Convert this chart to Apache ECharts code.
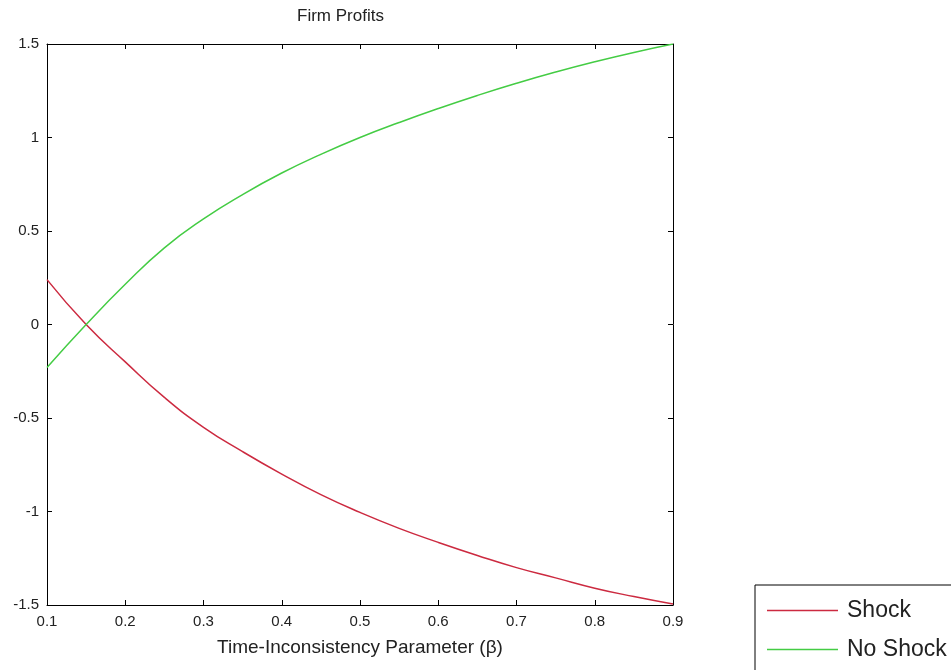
<!DOCTYPE html>
<html>
<head>
<meta charset="utf-8">
<script src="https://cdn.jsdelivr.net/npm/echarts@6/dist/echarts.min.js"></script>
<style>
  html, body { margin: 0; padding: 0; background: #fff; }
  #chart { width: 951px; height: 670px; }
</style>
</head>
<body>
<div id="chart"></div>
<script>
// Time-inconsistency parameter (beta) sample points
const beta = [0.10, 0.15, 0.20, 0.25, 0.30, 0.35, 0.40, 0.45, 0.50,
              0.55, 0.60, 0.65, 0.70, 0.75, 0.80, 0.85, 0.90];
// Firm profits with a shock
const shock = [0.24, 0.00, -0.20, -0.39, -0.55, -0.68, -0.80, -0.91, -1.005,
               -1.09, -1.165, -1.235, -1.30, -1.355, -1.41, -1.455, -1.495];
// Firm profits without a shock
const noShock = [-0.23, 0.00, 0.215, 0.41, 0.565, 0.695, 0.81, 0.91, 1.00,
                 1.08, 1.155, 1.225, 1.29, 1.35, 1.405, 1.455, 1.50];

const seriesNames = ['Shock', 'No Shock'];
const titleText = 'Firm Profits';
const xLabel = 'Time-Inconsistency Parameter (\u03b2)';

const FONT = 'Liberation Sans, Arial, sans-serif';
const TXT = '#222';

const pairs = (xs, ys) => xs.map((x, i) => [x, ys[i]]);

const chart = echarts.init(document.getElementById('chart'), null, { renderer: 'canvas' });

const tickIn = { show: true, inside: true, length: 5, lineStyle: { color: '#000', width: 1 } };
const axLine = { show: true, onZero: false, lineStyle: { color: '#000', width: 1 } };

chart.setOption({
  animation: false,
  backgroundColor: '#fff',
  title: {
    text: titleText,
    left: 292, top: 3,
    textStyle: { fontFamily: FONT, fontSize: 17, fontWeight: 'normal', color: TXT }
  },
  grid: { left: 47, top: 44, right: 278, bottom: 65, containLabel: false },
  legend: {
    orient: 'vertical',
    left: 755, top: 585, height: 140,
    padding: [14, 40, 40, 12],
    itemWidth: 71, itemHeight: 14, itemGap: 16,
    borderColor: '#000', borderWidth: 1,
    icon: 'path://M0,0 L71,0 L71,1.5 L0,1.5 Z',
    textStyle: { fontFamily: FONT, fontSize: 23, color: TXT, padding: [0, 0, 0, 4] },
    data: seriesNames
  },
  xAxis: [{
    type: 'value', min: 0.1, max: 0.9, interval: 0.1,
    name: xLabel, nameLocation: 'middle', nameGap: 33,
    nameTextStyle: { fontFamily: FONT, fontSize: 19, color: TXT },
    axisLine: axLine, axisTick: tickIn, splitLine: { show: false },
    axisLabel: { fontFamily: FONT, fontSize: 15, color: TXT, margin: 9,
                 formatter: v => v.toFixed(1) }
  }, {
    type: 'value', min: 0.1, max: 0.9, interval: 0.1, position: 'top',
    axisLine: axLine, axisTick: tickIn, axisLabel: { show: false }, splitLine: { show: false }
  }],
  yAxis: [{
    type: 'value', min: -1.5, max: 1.5, interval: 0.5,
    axisLine: axLine, axisTick: tickIn, splitLine: { show: false },
    axisLabel: { fontFamily: FONT, fontSize: 15, color: TXT, margin: 8 }
  }, {
    type: 'value', min: -1.5, max: 1.5, interval: 0.5, position: 'right',
    axisLine: axLine, axisTick: tickIn, axisLabel: { show: false }, splitLine: { show: false }
  }],
  series: [{
    name: seriesNames[0], type: 'line', smooth: 0.5, showSymbol: false,
    data: pairs(beta, shock),
    color: '#cc2a40',
    lineStyle: { color: '#cc2a40', width: 1.5 }
  }, {
    name: seriesNames[1], type: 'line', smooth: 0.5, showSymbol: false,
    data: pairs(beta, noShock),
    color: '#44cc44',
    lineStyle: { color: '#44cc44', width: 1.5 }
  }]
});
</script>
</body>
</html>
